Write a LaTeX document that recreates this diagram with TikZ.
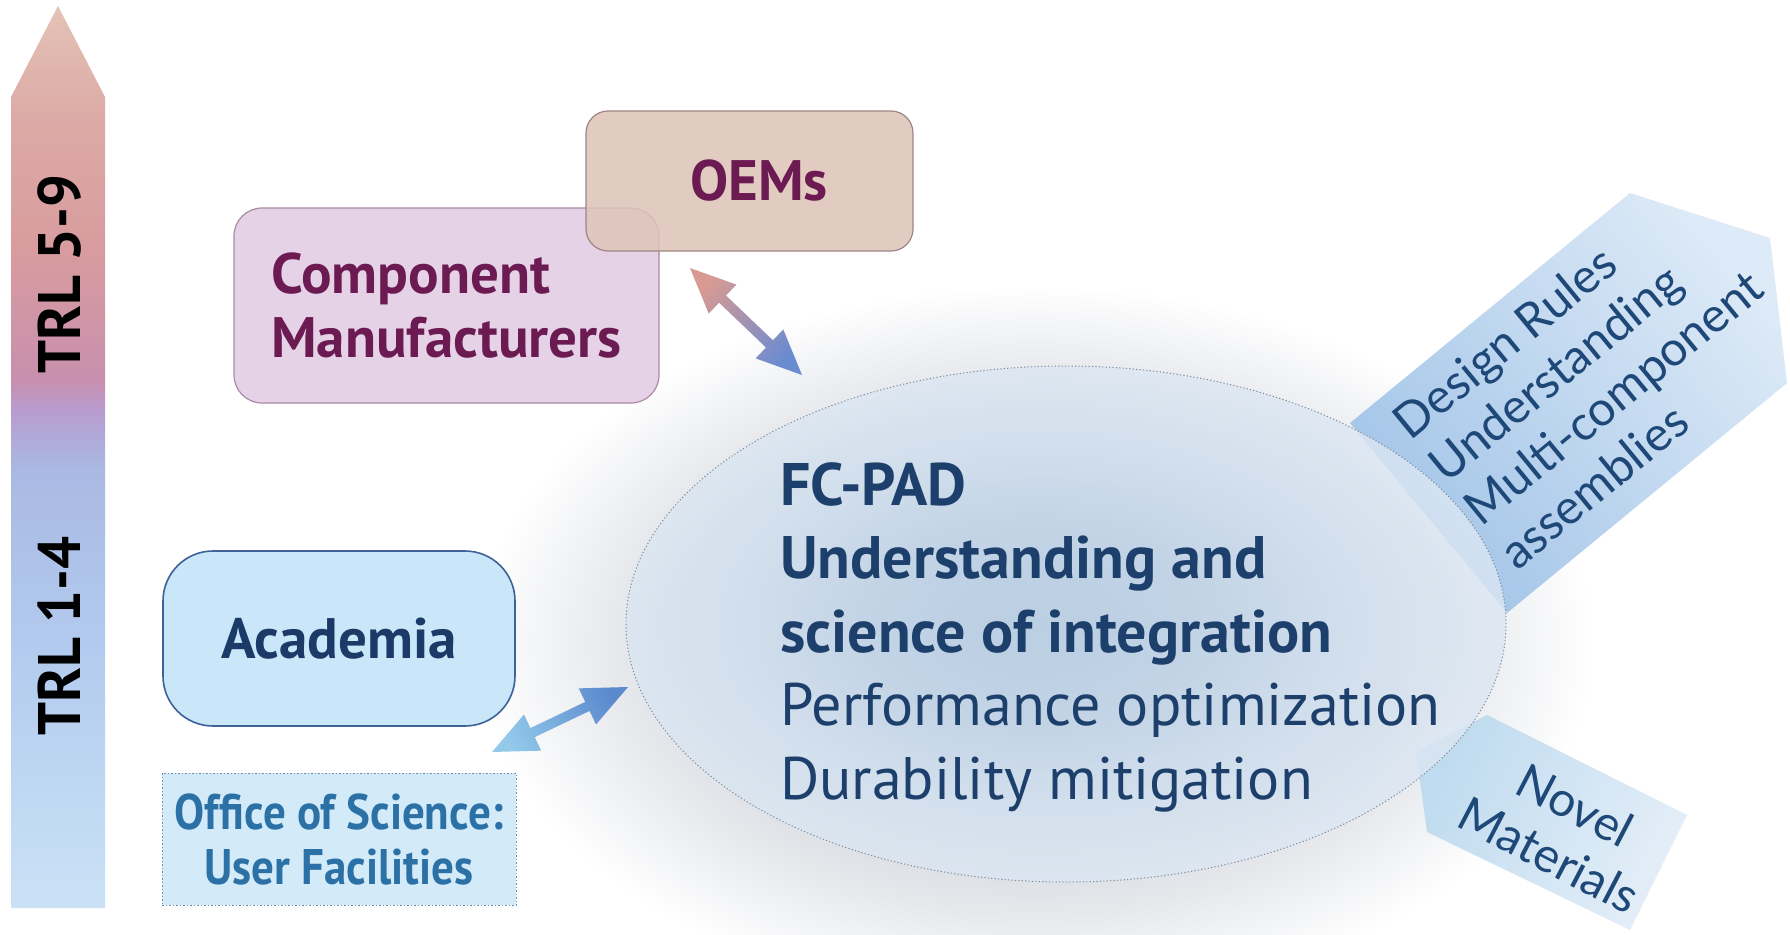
\documentclass[tikz,border=0pt]{standalone}
\usepackage{fontspec}
\setmainfont{PT Sans}
\newfontfamily\latofont{Lato}
\newfontfamily\narrowfont[FakeStretch=0.9]{PT Sans}
\newfontfamily\scalefont[FakeStretch=0.97]{PT Sans}
\usetikzlibrary{shapes.geometric,calc}

% palette
\definecolor{trlA}{HTML}{CAE1F6}
\definecolor{trlB}{HTML}{B3CBEE}
\definecolor{trlC}{HTML}{A9B9E3}
\definecolor{trlD}{HTML}{B89CCF}
\definecolor{trlE}{HTML}{C88FAE}
\definecolor{trlF}{HTML}{D89C9E}
\definecolor{trlG}{HTML}{DCAAA6}
\definecolor{trlH}{HTML}{E4C2B6}
\definecolor{compfill}{HTML}{E6D2E6}
\definecolor{compline}{HTML}{A98AA3}
\definecolor{oemfill}{HTML}{DEC4B8}
\definecolor{oemline}{HTML}{A08585}
\definecolor{plum}{HTML}{6B1A52}
\definecolor{acadfill}{HTML}{C9E7F9}
\definecolor{acadline}{HTML}{3E6198}
\definecolor{navy}{HTML}{1B3A68}
\definecolor{officefill}{HTML}{D3EAF9}
\definecolor{officeline}{HTML}{6F8FAA}
\definecolor{officetext}{HTML}{2C71A6}
\definecolor{coreA}{HTML}{B3CBE2}
\definecolor{coreB}{HTML}{C6D8EB}
\definecolor{coreC}{HTML}{DCE7F3}
\definecolor{coreline}{HTML}{7D8C9C}
\definecolor{coretext}{HTML}{1D3F6B}
\definecolor{halo}{HTML}{DDE0E5}
\definecolor{rulesdark}{HTML}{A2C4E8}
\definecolor{ruleslight}{HTML}{DDEAF7}
\definecolor{rulestext}{HTML}{1E4878}
\definecolor{noveldark}{HTML}{BFDBEF}
\definecolor{novellight}{HTML}{E4EEF8}
\definecolor{salmon}{HTML}{D89A92}
\definecolor{linkblue}{HTML}{6A8BD2}
\definecolor{skylight}{HTML}{93CAEA}
\definecolor{skydark}{HTML}{5B89CD}

% colour ramp of the TRL scale, bottom to top
\pgfdeclareverticalshading{trlshade}{100bp}{color(0bp)=(trlA); color(25bp)=(trlA);
  color(39.3bp)=(trlB); color(49.3bp)=(trlC); color(52.6bp)=(trlD); color(54.3bp)=(trlE);
  color(61.5bp)=(trlF); color(68.7bp)=(trlG); color(75bp)=(trlH); color(100bp)=(trlH)}
% soft grey haze around the central ellipse
\pgfdeclareradialshading{haloshade}{\pgfpoint{0bp}{0bp}}{color(0bp)=(halo); color(16bp)=(halo);
  color(19bp)=(halo!70!white); color(25bp)=(white); color(50bp)=(white)}
% fill of the central ellipse, darker in the middle
\pgfdeclareradialshading{coreshade}{\pgfpoint{-2bp}{0bp}}{color(0bp)=(coreA); color(9bp)=(coreA!60!coreB);
  color(17bp)=(coreB!60!coreC); color(25bp)=(coreC); color(50bp)=(coreC)}

% double-headed arrow between two coordinates, filled with a shading
\newcommand{\twohead}[3]{%
  \shade[#3] (#1)
    -- ($(#1)!45pt!(#2)!20pt!90:(#2)$) -- ($(#1)!45pt!(#2)!5pt!90:(#2)$)
    -- ($(#2)!45pt!(#1)!5pt!-90:(#1)$) -- ($(#2)!45pt!(#1)!20pt!-90:(#1)$)
    -- (#2)
    -- ($(#2)!45pt!(#1)!20pt!90:(#1)$) -- ($(#2)!45pt!(#1)!5pt!90:(#1)$)
    -- ($(#1)!45pt!(#2)!5pt!-90:(#2)$) -- ($(#1)!45pt!(#2)!20pt!-90:(#2)$)
    -- cycle;}

\begin{document}
\begin{tikzpicture}[x=1pt,y=-1pt,
  boxlabel/.style={font=\bfseries\fontsize{57}{64}\selectfont, inner sep=0pt},
  trllabel/.style={font=\scalefont\bfseries\fontsize{60}{60}\selectfont, rotate=90, inner sep=0pt},
  arrowlabel/.style={font=\latofont\fontsize{48}{56}\selectfont, text=rulestext, inner sep=0pt}]

\useasboundingbox (0,0) rectangle (1790,934);
\fill[white] (0,0) rectangle (1790,934);

% haze behind the ellipse
\shade[shading=haloshade] (1035,645) ellipse [x radius=560, y radius=360];

% TRL scale arrow
\shade[shading=trlshade] (11,97) -- (58,6) -- (105,97) -- (105,908) -- (11,908) -- cycle;
\node[trllabel] (trlhigh) at (59,274) {TRL 5-9};
\node[trllabel] (trllow) at (59,636) {TRL 1-4};

% industry boxes
\node[boxlabel, draw=compline, line width=1.2pt, fill=compfill, rounded corners=28pt,
      minimum width=425pt, minimum height=195pt, text=plum, align=left]
      (comp) at (446.5,305.5) {Component\\Manufacturers};
\node[boxlabel, draw=oemline, line width=1.2pt, fill=oemfill, fill opacity=0.85, text opacity=1,
      rounded corners=22pt, minimum width=327pt, minimum height=140pt, text=plum]
      (oem) at (749.5,181) {\hspace*{19pt}OEMs};

% research boxes
\node[boxlabel, draw=acadline, line width=1.6pt, fill=acadfill, rounded corners=50pt,
      minimum width=352pt, minimum height=175pt, text=navy]
      (acad) at (339,638.5) {Academia};
\node[font=\narrowfont\bfseries\fontsize{50}{55}\selectfont, inner sep=0pt, draw=officeline,
      line width=1pt, dash pattern=on 1.5pt off 2pt, fill=officefill, minimum width=354pt,
      minimum height=132pt, text=officetext, align=center]
      (office) at (339,839) {Office of Science:\\User Facilities};

% outgoing and incoming block arrows
\shade[bottom color=rulesdark, top color=ruleslight, shading angle=-50.6]
  (1350,423) -- (1630,193) -- (1770,238) -- (1787,383) -- (1507,613) -- cycle;
\shade[bottom color=noveldark, top color=novellight, shading angle=-116.6]
  (1416,752) -- (1487,715) -- (1687,815) -- (1630,930) -- (1427,832) -- cycle;

% central ellipse
\node[ellipse, minimum width=880pt, minimum height=516pt, inner sep=0pt, shading=coreshade,
      fill opacity=0.8, draw=coreline, line width=1pt, dash pattern=on 1.2pt off 2.2pt]
      (core) at (1066,624) {};
\node[anchor=north west, align=left, inner sep=0pt, text=coretext,
      font=\fontsize{60}{73.5}\selectfont] (coretxt) at (780,462)
  {\textbf{FC-PAD}\\\textbf{Understanding and}\\\textbf{science of integration}\\Performance optimization\\Durability mitigation};

\node[arrowlabel, rotate=39.4, anchor=north west, align=left] (rules) at (1388,414)
  {Design Rules\\Understanding\\Multi-component\\assemblies};
\node[arrowlabel, rotate=-27.5, align=center] (novel) at (1562,830) {Novel\\Materials};

% exchange arrows
\coordinate (ua1) at (690,268);
\coordinate (ua2) at (802,375);
\twohead{ua1}{ua2}{top color=salmon, bottom color=linkblue, shading angle=46.3}
\coordinate (la1) at (492,752);
\coordinate (la2) at (628,687);
\twohead{la1}{la2}{top color=skydark, bottom color=skylight, shading angle=-64.5}

\end{tikzpicture}
\end{document}
